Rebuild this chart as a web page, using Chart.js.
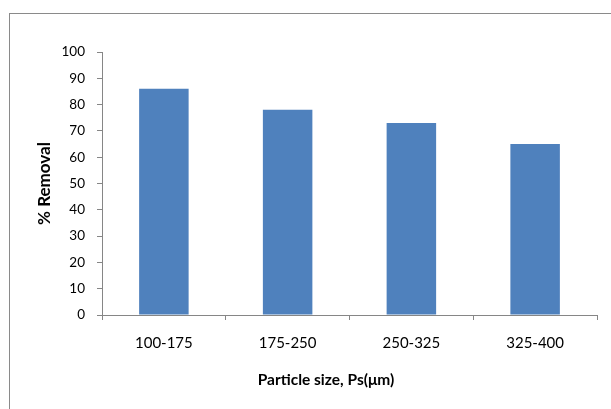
<!DOCTYPE html>
<html>
<head>
<meta charset="utf-8">
<script src="https://cdn.jsdelivr.net/npm/chart.js@4.4.1/dist/chart.umd.min.js"></script>
<style>
  html, body { margin: 0; padding: 0; background: #ffffff; }
  #wrap { position: relative; width: 611px; height: 409px; overflow: hidden; }
  #frame { position: absolute; left: 9px; top: 13px; width: 700px; height: 500px;
           border-left: 1px solid #8a8a8a; border-top: 1px solid #8a8a8a; pointer-events: none; }
  canvas { position: absolute; left: 0; top: 0; }
</style>
</head>
<body>
<div id="wrap">
  <canvas id="c" width="611" height="409"></canvas>
  <div id="frame"></div>
</div>
<script>
// Particle size classes (µm) and the removal achieved for each
const sizeClasses = ['100-175', '175-250', '250-325', '325-400'];
const removalPct = [86, 78, 73, 65];
const yTicks = [0, 10, 20, 30, 40, 50, 60, 70, 80, 90, 100];

const xTitleText = 'Particle size, Ps(\u03bcm)';
const yTitleText = '% Removal';

const axisGray = '#868686';
const barBlue = '#4f81bd';

// Draws the x-axis caption below the category labels
const xCaption = {
  id: 'xCaption',
  afterDraw(chart) {
    const ctx = chart.ctx;
    const area = chart.chartArea;
    ctx.save();
    ctx.font = 'bold 15.5px Lato';
    ctx.fillStyle = '#000000';
    ctx.textAlign = 'center';
    ctx.textBaseline = 'middle';
    ctx.fillText(xTitleText, area.left + 224, 380);
    ctx.restore();
  }
};

new Chart(document.getElementById('c'), {
  type: 'bar',
  data: {
    labels: sizeClasses,
    datasets: [{
      data: removalPct,
      backgroundColor: barBlue,
      borderWidth: 0,
      barPercentage: 0.4,
      categoryPercentage: 1.0
    }]
  },
  options: {
    responsive: false,
    animation: false,
    devicePixelRatio: 1,
    layout: { padding: { top: 52, right: 14, bottom: 0, left: 0 } },
    plugins: { legend: { display: false }, tooltip: { enabled: false } },
    scales: {
      x: {
        afterFit(scale) { scale.height = 94; },
        border: { display: true, color: axisGray, width: 1 },
        grid: { offset: true, drawOnChartArea: false, drawTicks: true, tickLength: 5, color: axisGray },
        ticks: { color: '#000000', font: { family: 'Lato', size: 15 }, padding: 14, maxRotation: 0 }
      },
      y: {
        min: 0,
        max: 100,
        afterFit(scale) { scale.width = 102; },
        afterBuildTicks(scale) { scale.ticks = yTicks.map(v => ({ value: v })); },
        border: { display: true, color: axisGray, width: 1 },
        grid: { drawOnChartArea: false, drawTicks: true, tickLength: 5, color: axisGray },
        ticks: { color: '#000000', font: { family: 'Lato', size: 13.5 }, padding: 12 },
        title: {
          display: true,
          text: yTitleText,
          color: '#000000',
          font: { family: 'Lato', size: 17, weight: 'bold' },
          padding: { top: 34, bottom: 0 }
        }
      }
    }
  },
  plugins: [xCaption]
});
</script>
</body>
</html>
